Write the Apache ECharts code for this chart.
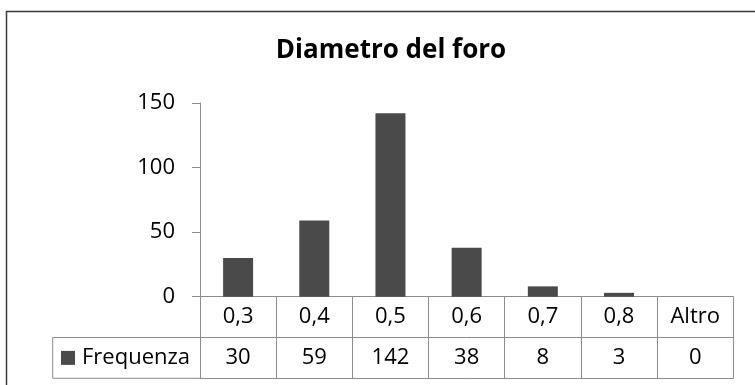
<!DOCTYPE html>
<html>
<head>
<meta charset="utf-8">
<style>
  html, body { margin: 0; padding: 0; background: #fff; }
  #chart { width: 755px; height: 385px; }
</style>
<script src="https://cdn.jsdelivr.net/npm/echarts@6/dist/echarts.min.js"></script>
</head>
<body>
<div id="chart"></div>
<script>
// Classi del diametro e frequenze dell'istogramma
const categories = ['0,3', '0,4', '0,5', '0,6', '0,7', '0,8', 'Altro'];
const frequenza = [30, 59, 142, 38, 8, 3, 0];
const seriesName = 'Frequenza';
const titleText = 'Diametro del foro';
const yMin = 0;
const yMax = 150;
const yStep = 50;

const FONT = '"Open Sans", "Noto Sans", sans-serif';
const BAR = '#4a4a4a';
const GRID_LINE = '#8c8c8c';

const gridTop = 103, gridBottomY = 296.7, rowH = 40.8;
const gridLeft = 200, gridRight = 733.3;

const chart = echarts.init(document.getElementById('chart'), null, { renderer: 'canvas' });

chart.setOption({
  animation: false,
  backgroundColor: '#fff',
  title: {
    text: titleText,
    left: 386,
    textAlign: 'center',
    top: 33,
    textStyle: { fontFamily: FONT, fontSize: 26, fontWeight: 'bold', color: '#000' }
  },
  legend: {
    data: [seriesName],
    left: 61,
    top: gridBottomY + rowH + rowH / 2 - 11,
    padding: 0,
    icon: 'rect',
    itemWidth: 14,
    itemHeight: 14,
    selectedMode: false,
    textStyle: { fontFamily: FONT, fontSize: 22, color: '#000', padding: [0, 0, 0, 2] }
  },
  grid: {
    left: gridLeft,
    right: 755 - gridRight,
    top: gridTop,
    bottom: 385 - gridBottomY,
    containLabel: false
  },
  xAxis: [
    {
      // riga delle classi
      type: 'category',
      data: categories,
      position: 'bottom',
      axisLine: { show: true, lineStyle: { color: GRID_LINE, width: 1 } },
      axisTick: { show: true, length: rowH * 2, lineStyle: { color: GRID_LINE, width: 1 } },
      axisLabel: {
        fontFamily: FONT, fontSize: 22, color: '#000',
        margin: rowH / 2, verticalAlign: 'middle', interval: 0
      },
      splitLine: { show: false }
    },
    {
      // riga delle frequenze
      type: 'category',
      data: categories,
      position: 'bottom',
      offset: rowH,
      axisLine: { show: true, lineStyle: { color: GRID_LINE, width: 1 } },
      axisTick: { show: false },
      axisLabel: {
        fontFamily: FONT, fontSize: 22, color: '#000',
        margin: rowH / 2, verticalAlign: 'middle', interval: 0,
        formatter: (v, i) => String(frequenza[i])
      },
      splitLine: { show: false }
    },
    {
      // bordo inferiore della tabella
      type: 'category',
      data: categories,
      position: 'bottom',
      offset: rowH * 2,
      axisLine: { show: true, lineStyle: { color: GRID_LINE, width: 1 } },
      axisTick: { show: false },
      axisLabel: { show: false },
      splitLine: { show: false }
    }
  ],
  yAxis: {
    type: 'value',
    min: yMin,
    max: yMax,
    interval: yStep,
    axisLine: { show: true, lineStyle: { color: GRID_LINE, width: 1 } },
    axisTick: { show: true, length: 8, lineStyle: { color: GRID_LINE, width: 1 } },
    axisLabel: { fontFamily: FONT, fontSize: 22, color: '#000', margin: 25 },
    splitLine: { show: false }
  },
  series: [{
    name: seriesName,
    type: 'bar',
    data: frequenza,
    xAxisIndex: 0,
    barWidth: 30,
    itemStyle: { color: BAR }
  }],
  graphic: [
    {
      // cella della legenda
      type: 'polyline',
      silent: true,
      shape: { points: [[gridLeft, gridBottomY + rowH], [52.7, gridBottomY + rowH], [52.7, gridBottomY + rowH * 2], [gridLeft, gridBottomY + rowH * 2]] },
      style: { stroke: GRID_LINE, lineWidth: 1, fill: null }
    },
    {
      // cornice dell'area del grafico
      type: 'rect',
      silent: true,
      shape: { x: 6.5, y: 11.5, width: 800, height: 400 },
      style: { stroke: '#3a3a3a', lineWidth: 1.5, fill: null }
    }
  ]
});
</script>
</body>
</html>
